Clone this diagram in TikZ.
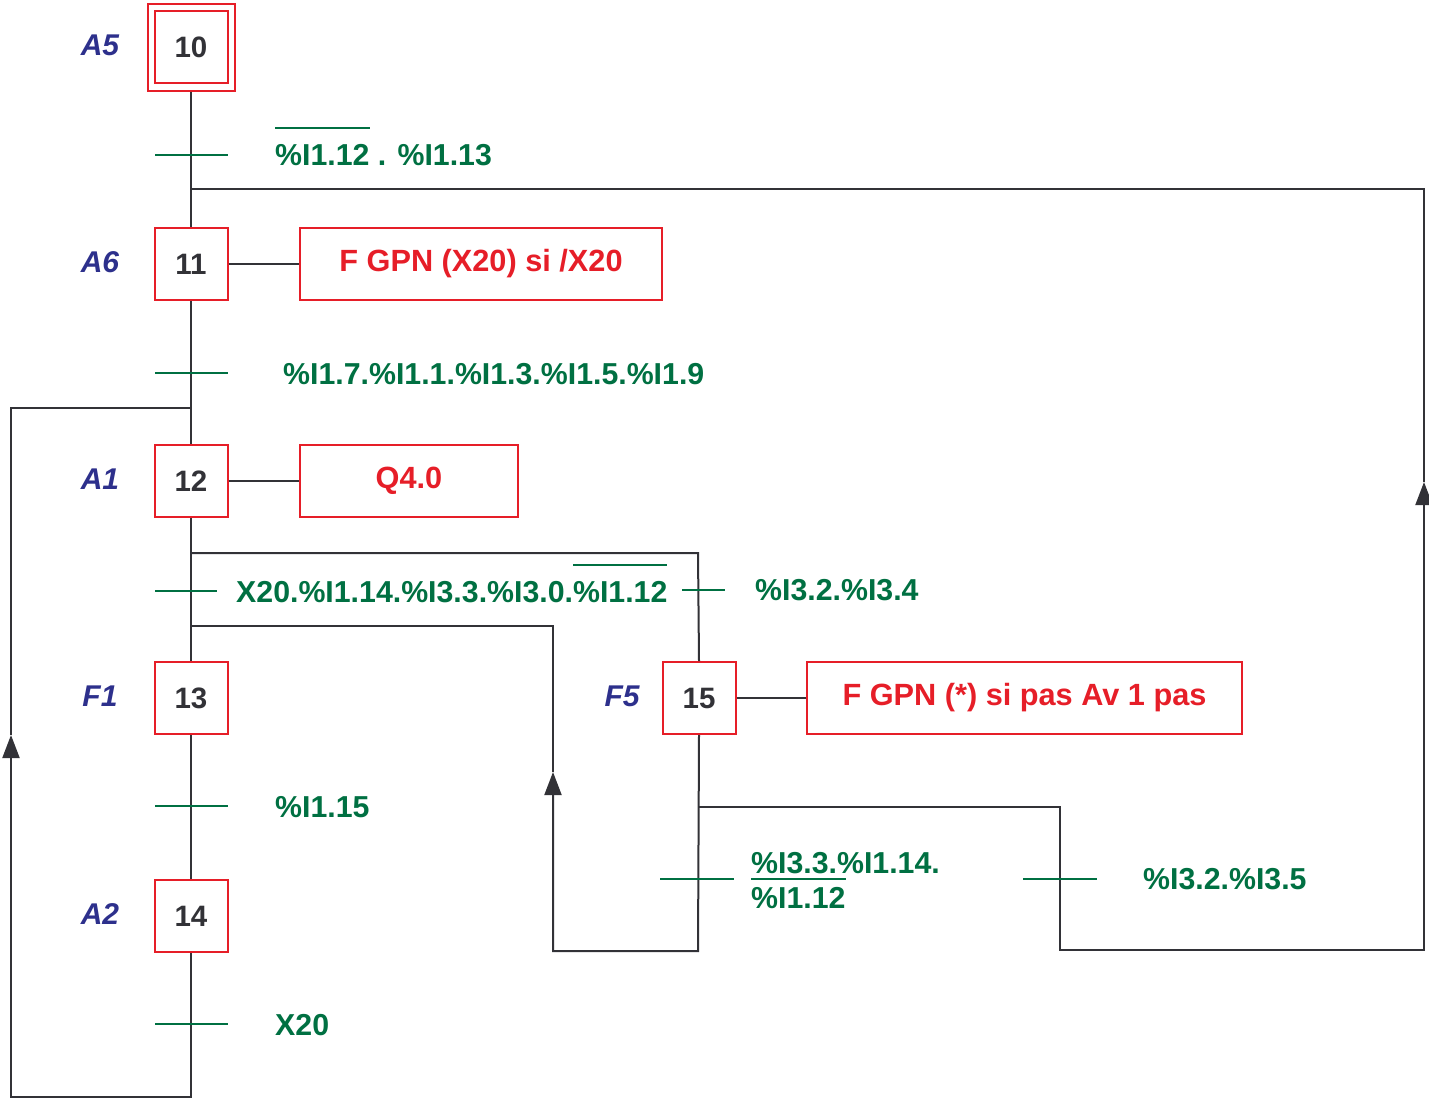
\documentclass[tikz,border=0pt]{standalone}
\usepackage{fontspec}
\setmainfont{Liberation Sans}
\usetikzlibrary{arrows.meta,calc}
\definecolor{sred}{RGB}{230,30,40}
\definecolor{sgreen}{RGB}{0,112,66}
\definecolor{sblue}{RGB}{45,48,140}
\definecolor{sline}{RGB}{50,50,55}
\newsavebox\olbox
\newcommand\olbar[2][36pt]{\sbox\olbox{#2}\rlap{\rule[#1]{\wd\olbox}{2pt}}\usebox\olbox}
\begin{document}
\begin{tikzpicture}[x=1pt,y=-1pt,
  stepbox/.style={draw=sred, line width=2pt, minimum width=73pt, minimum height=72pt, inner sep=0pt, text=sline, font=\bfseries\fontsize{29.5}{36}\selectfont},
  outerbox/.style={draw=sred, line width=2pt, minimum size=87pt, inner sep=0pt},
  actbox/.style={draw=sred, line width=2pt, minimum height=72pt, inner sep=0pt, text=sred, font=\bfseries\fontsize{30.7}{36}\selectfont},
  lab/.style={text=sblue, inner sep=0pt, font=\bfseries\itshape\fontsize{30}{36}\selectfont},
  cond/.style={text=sgreen, anchor=base west, inner sep=0pt, font=\bfseries\fontsize{30.3}{35}\selectfont},
  tickline/.style={draw=sgreen, line width=2pt},
  link/.style={draw=sline, line width=2pt},
  arr/.style={link, -{Triangle[length=23pt,width=17pt]}}]
\useasboundingbox (0,0) rectangle (1429,1098);

% steps
\node[stepbox] (s10) at (191,47) {10};
\node[outerbox] (s10o) at (191,47) {};
\node[stepbox] (s11) at (191,264) {11};
\node[stepbox] (s12) at (191,481) {12};
\node[stepbox] (s13) at (191,698) {13};
\node[stepbox] (s14) at (191,916) {14};
\node[stepbox] (s15) at (699,698) {15};

% actions
\node[actbox, minimum width=362pt] (a11) at (481,264) {F GPN (X20) si /X20};
\node[actbox, minimum width=218pt] (a12) at (409,481) {Q4.0};
\node[actbox, minimum width=435pt] (a15) at (1024.5,698) {F GPN (*) si pas Av 1 pas};

% step labels
\node[lab] (l10) at (100,45) {A5};
\node[lab] (l11) at (100,262) {A6};
\node[lab] (l12) at (100,479) {A1};
\node[lab] (l13) at (100,696) {F1};
\node[lab] (l14) at (100,914) {A2};
\node[lab] (l15) at (622,696) {F5};

% corner coordinates
\coordinate (j189) at (191,189);
\coordinate (j408) at (191,408);
\coordinate (j553) at (191,553);
\coordinate (j626) at (191,626);
\coordinate (b1) at (191,1097);
\coordinate (b2) at (11,1097);
\coordinate (ar1) at (11,735);
\coordinate (b3) at (11,408);
\coordinate (d1) at (698,553);
\coordinate (d2) at (698,807);
\coordinate (d3) at (698,951);
\coordinate (d4) at (553,951);
\coordinate (ar2) at (553,772);
\coordinate (d5) at (553,626);
\coordinate (e1) at (1060,807);
\coordinate (e2) at (1060,950);
\coordinate (e3) at (1424,950);
\coordinate (ar3) at (1424,482);
\coordinate (e4) at (1424,189);

% main links
\draw[link] (s10o.south) -- (s11.north);
\draw[link] (s11.south) -- (s12.north);
\draw[link] (s12.south) -- (s13.north);
\draw[link] (s13.south) -- (s14.north);
\draw[link] (s11.east) -- (a11.west);
\draw[link] (s12.east) -- (a12.west);
\draw[link] (s15.east) -- (a15.west);

% loops
\draw[arr] (s14.south) -- (b1) -- (b2) -- (ar1);
\draw[link] (ar1) -- (b3) -- (j408);
\draw[link] (j553) -- (d1) -- (s15.north);
\draw[arr] (s15.south) -- (d3) -- (d4) -- (ar2);
\draw[link] (ar2) -- (d5) -- (j626);
\draw[arr] (d2) -- (e1) -- (e2) -- (e3) -- (ar3);
\draw[link] (ar3) -- (e4) -- (j189);

% transitions
\draw[tickline] (155,155) -- (228,155);
\draw[tickline] (155,373) -- (228,373);
\draw[tickline] (155,591) -- (217,591);
\draw[tickline] (155,806) -- (228,806);
\draw[tickline] (155,1024) -- (228,1024);
\draw[tickline] (682,590) -- (725,590);
\draw[tickline] (660,879) -- (734,879);
\draw[tickline] (1023,879) -- (1097,879);

% conditions
\node[cond] (c1) at (275,165) {\olbar{\%I1.12} . \%I1.13};
\node[cond] (c2) at (283,384) {\%I1.7.\%I1.1.\%I1.3.\%I1.5.\%I1.9};
\node[cond] (c3) at (236,602) {X20.\%I1.14.\%I3.3.\%I3.0.\olbar{\%I1.12}};
\node[cond] (c4) at (755,600) {\%I3.2.\%I3.4};
\node[cond] (c5) at (275,817) {\%I1.15};
\node[cond] (c6) at (275,1035) {X20};
\node[cond] (c7a) at (751,873) {\%I3.3.\%I1.14.};
\node[cond] (c7b) at (751,908) {\olbar[28pt]{\%I1.12}};
\node[cond] (c8) at (1143,889) {\%I3.2.\%I3.5};
\end{tikzpicture}
\end{document}
